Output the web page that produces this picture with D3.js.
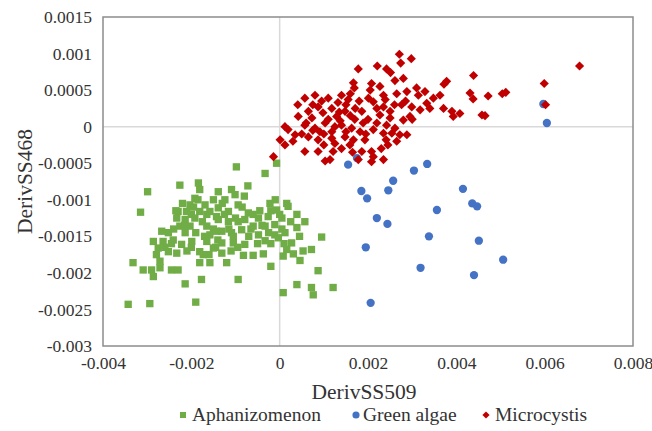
<!DOCTYPE html>
<html>
<head>
<meta charset="utf-8">
<script src="https://cdn.jsdelivr.net/npm/d3@7"></script>
<style>
  body { margin: 0; background: #fff; }
  text { font-family: "Liberation Serif", "Times New Roman", serif; fill: #333; }
</style>
</head>
<body>
<script>
const width = 652,
  height = 431,
  marginTop = 17,
  marginRight = 19,
  marginBottom = 85,
  marginLeft = 103;

// tick values
const xTicks = [-0.004, -0.002, 0, 0.002, 0.004, 0.006, 0.008];
const yTicks = [-0.003, -0.0025, -0.002, -0.0015, -0.001, -0.0005, 0, 0.0005, 0.001, 0.0015];

const seriesNames = ["Aphanizomenon", "Green algae", "Microcystis"];

// [DerivSS509, DerivSS468]
const aphanizomenon = [
  [-0.00299,-0.00089],[-0.00226,-0.00080],[-0.00184,-0.00077],[-0.00181,-0.00086],[-0.00315,-0.00117],
  [-0.00192,-0.00098],[-0.00203,-0.00107],[-0.00169,-0.00107],[-0.00230,-0.00116],[-0.00211,-0.00116],
  [-0.00181,-0.00116],[-0.00158,-0.00116],[-0.00233,-0.00125],[-0.00214,-0.00127],[-0.00192,-0.00125],
  [-0.00143,-0.00123],[-0.00226,-0.00136],[-0.00203,-0.00136],[-0.00165,-0.00136],[-0.00214,-0.00145],
  [-0.00267,-0.00143],[-0.00252,-0.00145],[-0.00158,-0.00148],[-0.00143,-0.00143],[-0.00286,-0.00157],
  [-0.00264,-0.00157],[-0.00241,-0.00155],[-0.00222,-0.00161],[-0.00199,-0.00157],[-0.00165,-0.00157],
  [-0.00275,-0.00166],[-0.00252,-0.00171],[-0.00233,-0.00173],[-0.00181,-0.00171],[-0.00150,-0.00166],
  [-0.00279,-0.00175],[-0.00173,-0.00175],[-0.00271,-0.00184],[-0.00181,-0.00186],[-0.00158,-0.00186],
  [-0.00332,-0.00186],[-0.00309,-0.00196],[-0.00290,-0.00196],[-0.00271,-0.00193],[-0.00245,-0.00196],
  [-0.00230,-0.00196],[-0.00286,-0.00205],[-0.00214,-0.00215],[-0.00177,-0.00209],[-0.00343,-0.00243],
  [-0.00294,-0.00242],[-0.00190,-0.00240],
  [-0.00098,-0.00055],[-0.00007,-0.00050],[-0.00033,-0.00064],[-0.00072,-0.00081],[-0.00139,-0.00089],
  [-0.00109,-0.00086],[-0.00101,-0.00093],[-0.00124,-0.00100],[-0.00094,-0.00107],[-0.00022,-0.00105],
  [-0.00007,-0.00114],[0.00016,-0.00105],[0.00019,-0.00109],[-0.00139,-0.00111],[-0.00116,-0.00116],
  [-0.00071,-0.00118],[-0.00048,-0.00125],[-0.00026,-0.00123],[0.00005,-0.00125],[0.00039,-0.00120],
  [0.00057,-0.00130],[-0.00139,-0.00127],[-0.00116,-0.00130],[-0.00094,-0.00130],[-0.00079,-0.00127],
  [-0.00060,-0.00136],[-0.00033,-0.00136],[-0.00011,-0.00134],[0.00039,-0.00138],[-0.00131,-0.00143],
  [-0.00109,-0.00145],[-0.00086,-0.00141],[-0.00048,-0.00148],[-0.00011,-0.00148],[0.00012,-0.00145],
  [-0.00003,-0.00152],[0.00095,-0.00151],[-0.00131,-0.00159],[-0.00105,-0.00159],[-0.00079,-0.00161],
  [-0.00033,-0.00156],[0.00027,-0.00159],[-0.00131,-0.00173],[-0.00082,-0.00176],[-0.00060,-0.00176],
  [-0.00037,-0.00174],[0.00008,-0.00177],[0.00016,-0.00168],[0.00031,-0.00174],[0.00053,-0.00170],
  [0.00072,-0.00168],[0.00046,-0.00183],[-0.00120,-0.00186],[-0.00020,-0.00191],[0.00087,-0.00197],
  [-0.00094,-0.00209],[0.00039,-0.00216],[0.00072,-0.00220],[0.00008,-0.00227],[0.00076,-0.00230],
  [0.00121,-0.00220],
  [-0.00220,-0.00105],[-0.00200,-0.00120],[-0.00175,-0.00130],[-0.00150,-0.00140],[-0.00125,-0.00120],
  [-0.00100,-0.00125],[-0.00085,-0.00110],[-0.00060,-0.00120],[-0.00040,-0.00135],[-0.00020,-0.00115],
  [-0.00010,-0.00100],[0.00005,-0.00140],[0.00025,-0.00130],[-0.00240,-0.00140],[-0.00190,-0.00145],
  [-0.00170,-0.00150],[-0.00140,-0.00155],[-0.00115,-0.00140],[-0.00070,-0.00150],[-0.00050,-0.00160],
  [-0.00020,-0.00160],[0.00000,-0.00120],[-0.00210,-0.00170],[-0.00160,-0.00175],[-0.00110,-0.00170],
  [-0.00260,-0.00165],[-0.00195,-0.00110],[-0.00150,-0.00100],[-0.00080,-0.00095],[0.00045,-0.00150],
  [-0.00235,-0.00115],[-0.00215,-0.00135],[-0.00185,-0.00100],[-0.00165,-0.00120],[-0.00130,-0.00105],
  [-0.00105,-0.00150],[-0.00065,-0.00140],[-0.00045,-0.00115],[-0.00025,-0.00145],[0.00010,-0.00160],
  [-0.00245,-0.00160],[-0.00200,-0.00165],[-0.00145,-0.00165],[-0.00095,-0.00165]
];

const greenAlgae = [
  [0.00155,-0.00052],[0.00334,-0.00051],[0.00304,-0.00060],[0.00257,-0.00074],[0.00185,-0.00088],
  [0.00246,-0.00087],[0.00198,-0.00098],[0.00415,-0.00085],[0.00436,-0.00105],[0.00447,-0.00109],
  [0.00356,-0.00114],[0.00220,-0.00125],[0.00244,-0.00133],[0.00338,-0.00150],[0.00451,-0.00156],
  [0.00195,-0.00165],[0.00506,-0.00182],[0.00319,-0.00193],[0.00440,-0.00203],[0.00206,-0.00241],
  [0.00597,0.00031],[0.00605,0.00005],[0.00175,-0.00043]
];

const microcystis = [
  [0.00178,0.00079],[0.00167,0.00060],[0.00169,0.00053],[0.00057,0.00039],[0.00080,0.00043],
  [0.00110,0.00039],[0.00140,0.00043],[0.00155,0.00037],[0.00042,0.00014],[0.00065,0.00021],
  [0.00087,0.00027],[0.00118,0.00025],[0.00129,0.00014],[0.00148,0.00021],[0.00171,0.00025],
  [0.00186,0.00021],[0.00201,0.00039],[0.00019,-0.00004],[0.00012,0.00000],[0.00057,0.00002],
  [0.00080,-0.00002],[0.00103,0.00005],[0.00118,-0.00007],[0.00140,0.00002],[0.00163,-0.00002],
  [0.00182,-0.00007],[0.00001,-0.00018],[0.00012,-0.00025],[0.00065,-0.00014],[0.00087,-0.00018],
  [0.00118,-0.00016],[0.00148,-0.00014],[0.00167,-0.00018],[0.00057,-0.00034],[0.00087,-0.00034],
  [0.00121,-0.00034],[0.00114,-0.00045],[0.00186,-0.00034],[0.00208,-0.00034],[0.00178,-0.00045],
  [0.00208,-0.00048],[-0.00014,-0.00041],[0.00098,0.00019],[0.00137,0.00008],[0.00189,0.00005],
  [0.00125,-0.00023],[0.00159,-0.00025],[0.00150,-0.00007],[0.00103,-0.00047],[0.00041,0.00030],
  [0.00073,0.00012],[0.00035,-0.00011],[0.00091,-0.00007],[0.00193,-0.00018],[0.00132,0.00033],
  [0.00271,0.00099],[0.00274,0.00087],[0.00298,0.00093],[0.00221,0.00083],[0.00242,0.00079],
  [0.00251,0.00074],[0.00280,0.00066],[0.00261,0.00063],[0.00378,0.00062],[0.00372,0.00058],
  [0.00439,0.00070],[0.00208,0.00059],[0.00227,0.00055],[0.00235,0.00043],[0.00288,0.00048],
  [0.00310,0.00053],[0.00329,0.00048],[0.00314,0.00043],[0.00431,0.00046],[0.00438,0.00038],
  [0.00472,0.00042],[0.00348,0.00039],[0.00333,0.00032],[0.00340,0.00025],[0.00276,0.00030],
  [0.00299,0.00027],[0.00371,0.00025],[0.00390,0.00021],[0.00408,0.00018],[0.00393,0.00014],
  [0.00458,0.00016],[0.00212,0.00034],[0.00235,0.00027],[0.00250,0.00021],[0.00227,0.00016],
  [0.00250,0.00012],[0.00280,0.00009],[0.00295,0.00014],[0.00220,0.00005],[0.00242,0.00002],
  [0.00261,-0.00002],[0.00254,-0.00009],[0.00272,-0.00011],[0.00288,-0.00011],[0.00265,-0.00020],
  [0.00212,-0.00041],[0.00235,-0.00045],[0.00239,0.00037],[0.00212,-0.00004],[0.00235,-0.00009],
  [0.00318,0.00023],[0.00363,0.00043],[0.00241,-0.00018],[0.00679,0.00083],[0.00599,0.00059],
  [0.00602,0.00030],[0.00512,0.00047],[0.00504,0.00045],[0.00465,0.00015],
  [0.00150,0.00030],[0.00170,0.00010],[0.00200,0.00010],[0.00100,-0.00010],[0.00195,-0.00010],
  [0.00220,0.00025],[0.00260,0.00030],[0.00300,0.00010],[0.00160,0.00045],[0.00125,0.00000],
  [0.00075,0.00030],[0.00050,-0.00010],[0.00230,-0.00030],
  [0.00095,0.00035],[0.00110,0.00010],[0.00135,0.00020],[0.00160,0.00015],[0.00075,-0.00005],
  [0.00100,-0.00025],[0.00140,-0.00030],[0.00165,-0.00035],[0.00060,0.00005],[0.00180,0.00035],
  [0.00205,0.00050],[0.00265,0.00045],[0.00285,0.00035],[0.00245,-0.00025],[0.00030,-0.00020]
];

const colors = ["#70AD47", "#4472C4", "#C00000"];

const x = d3.scaleLinear().domain([-0.004, 0.008]).range([marginLeft, width - marginRight]);
const y = d3.scaleLinear().domain([-0.003, 0.0015]).range([height - marginBottom, marginTop]);

const fmt = (d) => (d === 0 ? "0" : (d < 0 ? "-" : "") + String(+Math.abs(d).toFixed(4)));

const svg = d3.select("body").append("svg").attr("width", width).attr("height", height);

// zero lines
svg.append("line")
  .attr("x1", x(0)).attr("x2", x(0))
  .attr("y1", y(0.0015)).attr("y2", y(-0.003))
  .attr("stroke", "#d9d9d9").attr("stroke-width", 1.5);
svg.append("line")
  .attr("x1", x(-0.004)).attr("x2", x(0.008))
  .attr("y1", y(0)).attr("y2", y(0))
  .attr("stroke", "#d9d9d9").attr("stroke-width", 1.5);

// plot border
svg.append("rect")
  .attr("x", x(-0.004)).attr("y", y(0.0015))
  .attr("width", x(0.008) - x(-0.004))
  .attr("height", y(-0.003) - y(0.0015))
  .attr("fill", "none").attr("stroke", "#8c8c8c").attr("stroke-width", 1.5);

// axes
const xAxis = svg.append("g")
  .attr("transform", `translate(0,${height - marginBottom + 8})`)
  .call(d3.axisBottom(x).tickValues(xTicks).tickFormat(fmt).tickSize(0));
xAxis.select(".domain").remove();
xAxis.selectAll("text").attr("font-size", 17.5).attr("font-family", "Liberation Serif").attr("fill", "#333");

const yAxis = svg.append("g")
  .attr("transform", `translate(${marginLeft - 8},0)`)
  .call(d3.axisLeft(y).tickValues(yTicks).tickFormat(fmt).tickSize(0));
yAxis.select(".domain").remove();
yAxis.selectAll("text").attr("font-size", 17.5).attr("font-family", "Liberation Serif").attr("fill", "#333");

// axis titles
svg.append("text")
  .attr("x", 364).attr("y", 399)
  .attr("text-anchor", "middle")
  .attr("font-size", 21.5)
  .text("DerivSS509");
svg.append("text")
  .attr("transform", `translate(32,${(marginTop + height - marginBottom) / 2}) rotate(-90)`)
  .attr("text-anchor", "middle")
  .attr("font-size", 21.5)
  .text("DerivSS468");

// markers
const shapes = [
  d3.symbol(d3.symbolSquare, 54),
  d3.symbol(d3.symbolCircle, 54),
  d3.symbol(d3.symbolSquare, 42)
];
const rotations = [0, 0, 45];

[aphanizomenon, greenAlgae, microcystis].forEach((series, i) => {
  svg.append("g")
    .selectAll("path")
    .data(series)
    .join("path")
    .attr("d", shapes[i])
    .attr("transform", (d) => `translate(${x(d[0])},${y(d[1])}) rotate(${rotations[i]})`)
    .attr("fill", colors[i]);
});

// legend
const legendPos = [
  { mx: 183, tx: 192 },
  { mx: 356, tx: 363 },
  { mx: 486, tx: 495 }
];
const legendShapes = [
  d3.symbol(d3.symbolSquare, 36),
  d3.symbol(d3.symbolCircle, 40),
  d3.symbol(d3.symbolSquare, 26)
];
const legend = svg.append("g");
seriesNames.forEach((name, i) => {
  legend.append("path")
    .attr("d", legendShapes[i])
    .attr("transform", `translate(${legendPos[i].mx},415) rotate(${rotations[i]})`)
    .attr("fill", colors[i]);
  legend.append("text")
    .attr("x", legendPos[i].tx).attr("y", 421)
    .attr("font-size", 19.5)
    .text(name);
});
</script>
</body>
</html>
